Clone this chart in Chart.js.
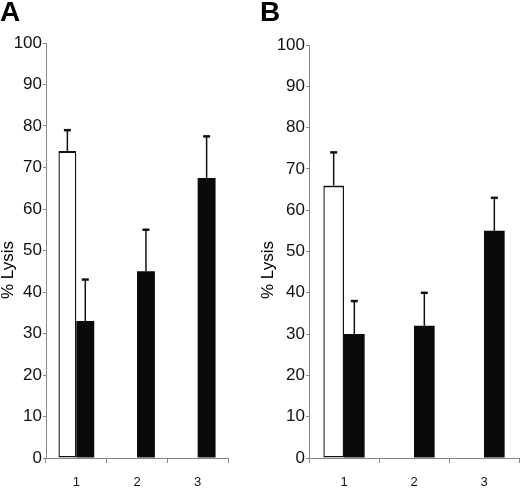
<!DOCTYPE html>
<html>
<head>
<meta charset="utf-8">
<script src="https://cdn.jsdelivr.net/npm/chart.js@4/dist/chart.umd.min.js"></script>
<style>
  body { margin: 0; background: #fff; font-family: "Liberation Sans", Arial, sans-serif; }
  #wrap { position: relative; width: 520px; height: 494px; overflow: hidden; }
  canvas { position: absolute; top: 0; }
  .panel { position: absolute; top: -2px; font: bold 28px "Liberation Sans", Arial, sans-serif; line-height: 1; }
  .ylab { position: absolute; width: 80px; height: 18px; line-height: 18px; text-align: center;
          font-size: 17px; transform: rotate(-90deg); white-space: nowrap; }
</style>
</head>
<body>
<div id="wrap">
  <canvas id="chartA" width="250" height="494" style="left:0"></canvas>
  <canvas id="chartB" width="260" height="494" style="left:260px"></canvas>
  <div class="panel" style="left:0">A</div>
  <div class="panel" style="left:260px">B</div>
  <div class="ylab" style="left:-32px; top:261px">% Lysis</div>
  <div class="ylab" style="left:228px; top:261px">% Lysis</div>
</div>
<script>
const categories = ["1", "2", "3"];
const yTicks = [0, 10, 20, 30, 40, 50, 60, 70, 80, 90, 100];

// panel A
const whiteA = [74, null, null];
const whiteErrA = [5, null, null];
const blackA = [33, 45, 67.5];
const blackErrA = [10, 10, 10];

// panel B
const whiteB = [66, null, null];
const whiteErrB = [8, null, null];
const blackB = [30, 32, 55];
const blackErrB = [8, 8, 8];

// draw the upward error bars on top of each bar
const errorBars = {
  id: "errorBars",
  afterDatasetsDraw(chart) {
    const ctx = chart.ctx;
    const yScale = chart.scales.y;
    chart.data.datasets.forEach((ds, i) => {
      const meta = chart.getDatasetMeta(i);
      meta.data.forEach((bar, j) => {
        const v = ds.data[j];
        const e = ds.errors[j];
        if (v == null || e == null) return;
        const top = yScale.getPixelForValue(v + e);
        ctx.save();
        ctx.strokeStyle = "#111";
        ctx.lineWidth = 1.5;
        ctx.beginPath();
        ctx.moveTo(bar.x, bar.y);
        ctx.lineTo(bar.x, top);
        ctx.stroke();
        ctx.lineWidth = 2.5;
        ctx.beginPath();
        ctx.moveTo(bar.x - 3.5, top);
        ctx.lineTo(bar.x + 3.5, top);
        ctx.stroke();
        ctx.restore();
      });
    });
  }
};

function makeChart(id, white, whiteErr, black, blackErr, axisWidth, pad) {
  const ctx = document.getElementById(id).getContext("2d");
  return new Chart(ctx, {
    type: "bar",
    data: {
      labels: categories,
      datasets: [
        {
          data: white,
          errors: whiteErr,
          backgroundColor: "#fff",
          borderColor: "#111",
          borderWidth: { left: 1.4, right: 1.4, top: 2.2, bottom: 1.4 },
          borderSkipped: false
        },
        {
          data: black,
          errors: blackErr,
          backgroundColor: "#0a0a0a",
          borderWidth: 0
        }
      ]
    },
    options: {
      responsive: false,
      animation: false,
      categoryPercentage: 0.59,
      barPercentage: 1,
      layout: { padding: pad },
      plugins: { legend: { display: false }, tooltip: { enabled: false } },
      scales: {
        x: {
          grid: { offset: true, drawOnChartArea: false, color: "#888", tickLength: 5 },
          border: { color: "#888", width: 1 },
          ticks: {
            color: "#111",
            padding: 12,
            font: { family: "'Liberation Sans Narrow', 'Liberation Sans', Arial", size: 13 }
          },
          afterFit(scale) { scale.height = 36; }
        },
        y: {
          min: 0,
          max: 100,
          afterBuildTicks(scale) { scale.ticks = yTicks.map(v => ({ value: v })); },
          grid: { drawOnChartArea: false, color: "#888", tickLength: 3 },
          border: { color: "#888", width: 1 },
          ticks: {
            color: "#111",
            padding: 1,
            font: { family: "'Liberation Sans', Arial", size: 17 }
          },
          afterFit(scale) { scale.width = axisWidth; }
        }
      }
    },
    plugins: [errorBars]
  });
}

makeChart("chartA", whiteA, whiteErrA, blackA, blackErrA, 46, { top: 43, right: 22, bottom: 0, left: 0 });
makeChart("chartB", whiteB, whiteErrB, blackB, blackErrB, 49, { top: 45, right: 1, bottom: 0, left: 0 });
</script>
</body>
</html>
